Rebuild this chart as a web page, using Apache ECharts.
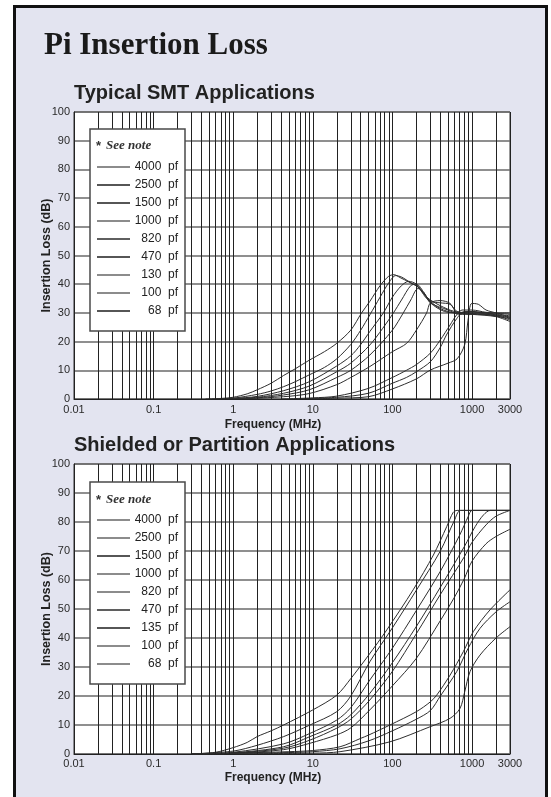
<!DOCTYPE html>
<html><head><meta charset="utf-8">
<script src="https://cdn.jsdelivr.net/npm/echarts@6/dist/echarts.min.js"></script>
<style>
html,body{margin:0;padding:0;background:#fff;width:551px;height:797px;overflow:hidden;}
#frame{position:absolute;left:13px;top:5px;width:535px;height:830px;box-sizing:border-box;border:3px solid #111;background:#e3e4f0;}
#chart{position:absolute;left:0;top:0;width:551px;height:797px;}
</style></head><body>
<div id="frame"></div><div id="chart"></div>
<script>
// ---- data ----
const xTickLabels = [0.01, 0.1, 1, 10, 100, 1000, 3000];
const smtNames = ['4000 pf','2500 pf','1500 pf','1000 pf','820 pf','470 pf','130 pf','100 pf','68 pf'];
const shieldNames = ['4000 pf','2500 pf','1500 pf','1000 pf','820 pf','470 pf','135 pf','100 pf','68 pf'];

const smt4000 = [[0.45,0],[0.7,0.2],[1,0.6],[1.5,1.8],[2,3.2],[3,5.5],[4.3,8.2],[6,10.5],[9,13.5],[14,16.5],[20,19.4],[30,24],[41,30],[52,34],[70,39.5],[90,42.8],[105,43.3],[125,42.3],[160,40.8],[210,39],[260,35.5],[300,34],[400,33.5],[530,33],[650,30.5],[1000,30],[1500,30],[2000,29.5],[3000,29]];
const smt2500 = [[0.6,0],[1,0.3],[2,1.6],[3,2.8],[4.3,4.3],[6,6],[9,8.4],[14,11],[20,14],[30,19],[40,24],[52,29.3],[70,35.5],[90,40.5],[110,43],[130,42.5],[170,40.5],[210,39],[260,36],[300,34],[400,31.5],[600,30],[1000,29.8],[2000,29.2],[3000,28.2]];
const smt1500 = [[0.7,0],[1,0.2],[2,0.9],[4.3,2.9],[9,6],[20,11.5],[30,15],[40,19],[52,23.5],[77,30],[100,35.5],[130,39.5],[160,41],[200,40],[260,36],[300,34.5],[400,32.5],[600,30.5],[1000,30],[2000,30],[3000,30]];
const smt1000 = [[0.8,0],[2,0.6],[4.3,2],[9,4.5],[20,9.5],[30,12.5],[52,18.8],[75,24.5],[103,30],[130,34.5],[170,39.5],[200,40],[250,37],[300,33.5],[500,31],[700,29.5],[1000,29.5],[2000,29],[3000,27.5]];
const smt820 = [[0.9,0],[2,0.4],[4.3,1.4],[9,3.2],[20,7.5],[30,10],[52,15.3],[100,24],[137,30],[170,34.5],[210,38.5],[250,37],[300,33.5],[450,30.5],[700,30],[1000,30.5],[2000,29.3],[3000,28.5]];
const smt470 = [[1.2,0],[4.3,0.8],[9,1.9],[20,5],[30,7.5],[52,11.3],[100,16.5],[151,19.4],[200,24],[269,30],[300,33.5],[400,34.3],[530,33.3],[650,30],[1000,29.5],[2000,28.7],[3000,27]];
const smt130 = [[4,0],[10,0.4],[20,1],[50,3.7],[100,7.5],[150,10],[200,12],[300,16],[400,20.6],[530,25.8],[640,29.3],[750,31],[1000,31],[1500,30.2],[3000,29.5]];
const smt100 = [[6,0],[20,0.6],[50,2],[100,5.5],[150,7.5],[200,9.5],[300,13],[400,18],[477,22.3],[642,28],[800,30.5],[1000,30.5],[1500,29.5],[3000,28]];
const smt68 = [[8,0],[20,0.3],[50,0.8],[100,3.5],[200,7],[300,10.1],[500,12.5],[650,14],[810,19],[892,27.5],[991,33.3],[1200,33],[1500,31],[2000,30],[3000,28.5]];

const sh4000 = [[0.3,0],[0.6,0.6],[1,2.2],[1.5,4],[2,6],[3,8],[4.3,10],[10,15.2],[20,20.3],[30,26],[50,34],[85,42.8],[182,56.6],[327,68.6],[481,78.4],[580,83.3],[650,84],[3000,84]];
const sh2500 = [[0.3,0],[1,1],[2,3],[4.3,6],[9.2,10],[20,14.6],[30,20],[52,31.8],[100,43.5],[200,56.5],[400,70],[600,80.5],[720,84],[3000,84]];
const sh1500 = [[0.3,0],[1,0.6],[4.3,3.5],[9.2,7.1],[20,11.7],[30,16],[52,25.5],[100,36.5],[200,49.5],[400,63],[700,75.5],[900,82],[1000,84],[3000,84]];
const sh1000 = [[0.35,0],[1,0.4],[4.3,2.5],[9.2,6],[20,10],[30,13.5],[52,20.9],[100,31.5],[200,44],[400,57.5],[800,71.5],[1100,78.5],[1400,82.5],[1700,84],[3000,84]];
const sh820 = [[0.4,0],[1,0.3],[4.3,2],[9.2,4.8],[20,8.9],[30,12],[52,18.6],[100,28.5],[200,41.5],[400,55],[800,68],[1000,73],[1500,79],[2000,82],[3000,84]];
const sh470 = [[0.5,0],[1,0.2],[4.3,1.5],[9.2,3.7],[20,6.6],[30,9],[52,15.2],[100,23.5],[200,33],[400,46],[600,54],[800,60.5],[1000,66.5],[1500,72.5],[2000,75],[3000,77.5]];
const sh135 = [[0.3,0],[1,0.3],[5,0.8],[10,1.2],[22,2.5],[40,5.4],[50,6.5],[93,10],[200,14.6],[300,18],[360,20.3],[530,27.2],[778,35.3],[1039,42.2],[1683,49.7],[3000,56.6]];
const sh100 = [[0.3,0],[5,0.5],[10,0.8],[22,1.8],[50,4.5],[100,8],[200,12],[300,15],[400,20],[642,28.4],[892,36.4],[1259,43.3],[2000,49],[3000,52.5]];
const sh68 = [[0.3,0],[10,0.3],[22,0.8],[93,4.2],[297,9.4],[530,12.3],[706,15.7],[810,21.5],[944,28.4],[1259,34.1],[2000,40],[3000,43.9]];

const smtData = [smt4000, smt2500, smt1500, smt1000, smt820, smt470, smt130, smt100, smt68];
const shieldData = [sh4000, sh2500, sh1500, sh1000, sh820, sh470, sh135, sh100, sh68];

// ---- styles ----
const smtIconColors = ['#666','#1e1e1e','#1e1e1e','#666','#2a2a2a','#1e1e1e','#666','#666','#1e1e1e'];
const shieldIconColors = ['#666','#666','#1e1e1e','#666','#666','#2a2a2a','#1e1e1e','#666','#666'];
const curveColor = '#2e2e2e';

// minor grid frequencies (2..9 x each decade)
const minorFreqs = [];
for (let e = -2; e <= 3; e++) {
  for (let m = 2; m <= 9; m++) {
    const v = +(m * Math.pow(10, e)).toPrecision(4);
    if (v < 3000) minorFreqs.push(v);
  }
}

const fmt = v => String(+(+v).toPrecision(6));

function xAxis(gi, labelMargin, nameGap) {
  return {
    type: 'log', logBase: 10, gridIndex: gi, min: 0.01, max: 3000,
    axisLine: { show: true, lineStyle: { color: '#222', width: 1 } },
    axisTick: { show: false },
    axisLabel: { fontSize: 11, color: '#2a2a2a', margin: labelMargin, fontFamily: 'Liberation Sans',
      formatter: fmt, showMinLabel: true, showMaxLabel: true },
    splitLine: { show: true, lineStyle: { color: '#222', width: 1 } },
    name: 'Frequency (MHz)', nameLocation: 'middle', nameGap: nameGap,
    nameTextStyle: { fontWeight: 'bold', fontSize: 12, color: '#222', fontFamily: 'Liberation Sans', padding: [0, 38, 0, 0] }
  };
}
function yAxis(gi) {
  return {
    type: 'value', gridIndex: gi, min: 0, max: 100, interval: 10,
    axisLine: { show: true, lineStyle: { color: '#222', width: 1 } },
    axisTick: { show: false },
    axisLabel: { fontSize: 11, color: '#2a2a2a', margin: 4, fontFamily: 'Liberation Sans' },
    splitLine: { show: true, lineStyle: { color: '#6a6a6a', width: 1.5 } },
    name: 'Insertion Loss (dB)', nameLocation: 'middle', nameGap: 21, nameMoveOverlap: false,
    nameTextStyle: { fontWeight: 'bold', fontSize: 12.5, color: '#222', fontFamily: 'Liberation Sans' }
  };
}
function legend(names, colors, top) {
  return {
    orient: 'vertical', left: 90, top: top, z: 20,
    padding: [32, 7, 14, 7],
    backgroundColor: '#fff', borderColor: '#4a4a4a', borderWidth: 1.5, borderRadius: 0,
    itemWidth: 33, itemHeight: 1.6, itemGap: 6, icon: 'rect',
    selectedMode: false,
    data: names.map((n, i) => ({ name: n, itemStyle: { color: colors[i] } })),
    formatter: n => '{t|' + n.replace(' ', '  ') + '}',
    textStyle: { rich: { t: { width: 43, align: 'right', fontSize: 12, color: '#222', fontFamily: 'Liberation Sans' } } }
  };
}
function curves(names, datas, gi) {
  return names.map((n, i) => ({
    name: n, type: 'line', xAxisIndex: gi, yAxisIndex: gi, data: datas[i],
    symbol: 'none', smooth: 0.3, silent: true, z: 3,
    lineStyle: { color: curveColor, width: 1 }, itemStyle: { color: curveColor }
  }));
}
function minorGrid(gi) {
  return {
    type: 'line', xAxisIndex: gi, yAxisIndex: gi, data: [], silent: true, z: 1,
    markLine: { silent: true, symbol: ['none', 'none'], label: { show: false }, animation: false,
      lineStyle: { color: '#222', width: 1, type: 'solid' },
      emphasis: { disabled: true },
      data: minorFreqs.map(v => ({ xAxis: v })) }
  };
}
const noteText = '{a|*} {b|See note}';
const noteRich = { a: { fontSize: 13, color: '#333', fontFamily: 'Liberation Sans' },
                   b: { fontSize: 13, color: '#333', fontFamily: 'Liberation Serif', fontStyle: 'italic' } };

const chart = echarts.init(document.getElementById('chart'), null, { renderer: 'canvas' });
chart.setOption({
  animation: false,
  backgroundColor: 'transparent',
  title: [
    { text: 'Pi Insertion Loss', left: 44, top: 30, padding: 0,
      textStyle: { fontFamily: 'Liberation Serif', fontWeight: 'bold', fontSize: 31, color: '#1a1a1a' } },
    { text: 'Typical SMT Applications', left: 74, top: 83, padding: 0,
      textStyle: { fontFamily: 'Liberation Sans', fontWeight: 'bold', fontSize: 20, color: '#222' } },
    { text: 'Shielded or Partition Applications', left: 74, top: 435, padding: 0,
      textStyle: { fontFamily: 'Liberation Sans', fontWeight: 'bold', fontSize: 20, color: '#222' } },
    { text: noteText, left: 96, top: 137, padding: 0, z: 30, textStyle: { rich: noteRich } },
    { text: noteText, left: 96, top: 491, padding: 0, z: 30, textStyle: { rich: noteRich } }
  ],
  grid: [
    { left: 74, right: 41, top: 112, height: 287, show: true, backgroundColor: '#fff', borderColor: '#333', borderWidth: 1 },
    { left: 74, right: 41, top: 464, height: 290, show: true, backgroundColor: '#fff', borderColor: '#333', borderWidth: 1 }
  ],
  xAxis: [xAxis(0, 5, 20), xAxis(1, 4, 18)],
  yAxis: [yAxis(0), yAxis(1)],
  legend: [legend(smtNames, smtIconColors, 129), legend(shieldNames, shieldIconColors, 482)],
  series: [minorGrid(0), minorGrid(1)].concat(curves(smtNames, smtData, 0), curves(shieldNames, shieldData, 1))
});
</script></body></html>
